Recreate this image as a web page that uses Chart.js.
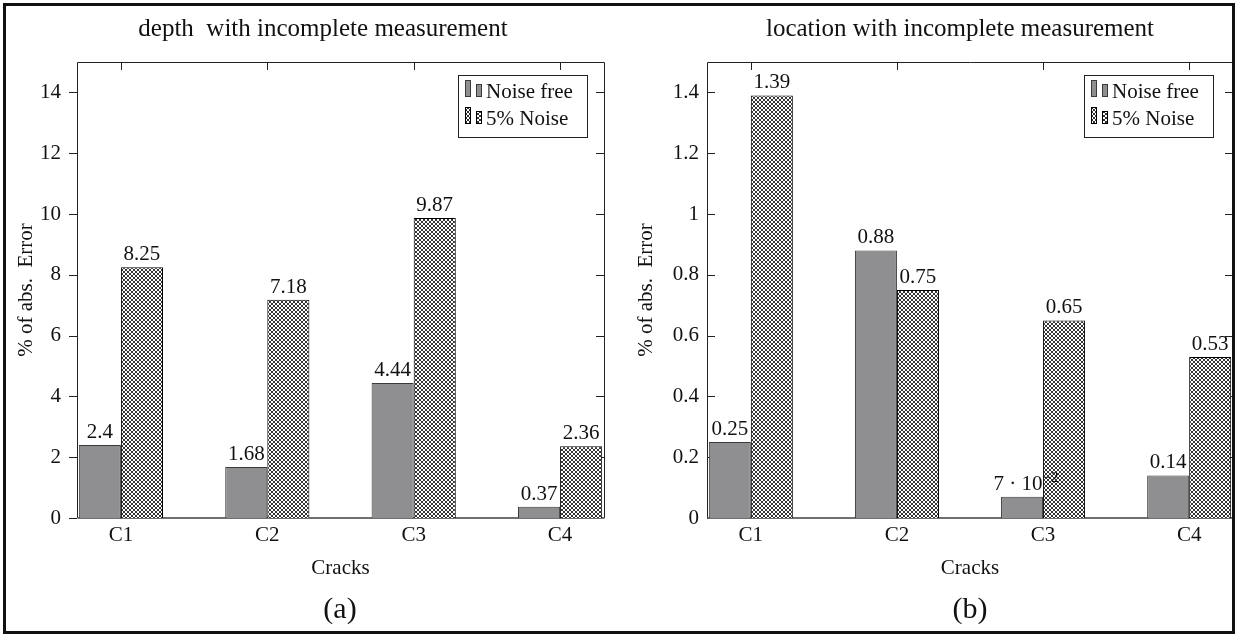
<!DOCTYPE html>
<html lang="en">
<head>
    <meta charset="UTF-8">
    <title>Crack identification error</title>
    <script src="https://cdn.jsdelivr.net/npm/chart.js"></script>
    <style>
        body {
            margin: 0;
            width: 1238px;
            height: 637px;
            background: #fff;
            position: relative;
            overflow: hidden;
            font-family: "Liberation Serif", "DejaVu Serif", serif;
        }
        canvas { position: absolute; top: 0; }
        #chartA { left: 0; }
        #chartB { left: 620px; }
        .frame {
            position: absolute;
            left: 3px; top: 3px;
            width: 1232px; height: 631px;
            box-sizing: border-box;
            border: 3px solid #111;
            pointer-events: none;
        }
        .title, .caption {
            position: absolute;
            transform: translate(-50%, -50%);
            white-space: pre;
            color: #111;
        }
        .title { font-size: 25px; top: 28px; }
        .caption { font-size: 30px; top: 608px; }
    </style>
</head>
<body>
    <canvas id="chartA" width="620" height="637"></canvas>
    <canvas id="chartB" width="618" height="637"></canvas>

    <div class="title" style="left:323px">depth  with incomplete measurement</div>
    <div class="title" style="left:960px">location with incomplete measurement</div>
    <div class="caption" style="left:340px">(a)</div>
    <div class="caption" style="left:970px">(b)</div>
    <div class="frame"></div>

    <script>
        // Data
        const cracks = ['C1', 'C2', 'C3', 'C4'];
        const seriesNames = ['Noise free', '5% Noise'];

        const depthNoiseFree = [2.4, 1.68, 4.44, 0.37];
        const depthNoise = [8.25, 7.18, 9.87, 2.36];
        const depthTicks = [0, 2, 4, 6, 8, 10, 12, 14];

        const locNoiseFree = [0.25, 0.88, 0.07, 0.14];
        const locNoise = [1.39, 0.75, 0.65, 0.53];
        const locTicks = [0, 0.2, 0.4, 0.6, 0.8, 1, 1.2, 1.4];

        const serif = '"Liberation Serif", "DejaVu Serif", serif';
        const ink = '#111';
        const grayFill = '#8f8f91';
        const fs = 21;

        // crosshatch fill for the noisy series
        function makeHatch() {
            const t = document.createElement('canvas');
            t.width = t.height = 4;
            const g = t.getContext('2d');
            g.fillStyle = '#fff';
            g.fillRect(0, 0, 4, 4);
            g.strokeStyle = '#000';
            g.lineWidth = 0.8;
            g.beginPath();
            g.moveTo(-1, -1); g.lineTo(5, 5);
            g.moveTo(5, -1); g.lineTo(-1, 5);
            g.stroke();
            return g.createPattern(t, 'repeat');
        }
        const hatch = makeHatch();

        function fmtValue(v) {
            if (v < 0.1) return null; // drawn as 7 · 10^-2
            return String(v);
        }

        // value labels above bars
        const valueLabels = {
            id: 'valueLabels',
            afterDatasetsDraw(chart) {
                const ctx = chart.ctx;
                ctx.save();
                ctx.fillStyle = ink;
                ctx.textAlign = 'center';
                ctx.textBaseline = 'alphabetic';
                chart.data.datasets.forEach((ds, di) => {
                    chart.getDatasetMeta(di).data.forEach((bar, i) => {
                        const v = ds.data[i].y;
                        const txt = fmtValue(v);
                        const y = bar.y - 7;
                        if (txt !== null) {
                            ctx.font = fs + 'px ' + serif;
                            ctx.fillText(txt, bar.x, y);
                        } else {
                            const exp = v.toExponential().split('e');
                            const base = Math.round(Number(exp[0])) + ' \u00b7 10';
                            const sup = exp[1].replace('-', '\u2212');
                            ctx.font = fs + 'px ' + serif;
                            const wb = ctx.measureText(base).width;
                            ctx.font = '15px ' + serif;
                            const ws = ctx.measureText(sup).width;
                            const x0 = bar.x - (wb + ws) / 2 + 4;
                            ctx.textAlign = 'left';
                            ctx.font = fs + 'px ' + serif;
                            ctx.fillText(base, x0, y);
                            ctx.font = '15px ' + serif;
                            ctx.fillText(sup, x0 + wb, y - 8);
                            ctx.textAlign = 'center';
                        }
                    });
                });
                ctx.restore();
            }
        };

        // axis box with ticks
        const axisFrame = {
            id: 'axisFrame',
            beforeDatasetsDraw(chart, args, opts) {
                const {ctx, chartArea: a, scales} = chart;
                const dir = opts.leftOut ? -1 : 1;
                ctx.save();
                ctx.strokeStyle = '#222';
                ctx.lineWidth = 1;
                ctx.beginPath();
                scales.y.ticks.forEach(t => {
                    const py = Math.round(scales.y.getPixelForValue(t.value)) + 0.5;
                    ctx.moveTo(a.left, py); ctx.lineTo(a.left + 8 * dir, py);
                    ctx.moveTo(a.right, py); ctx.lineTo(a.right - 8, py);
                });
                scales.x.ticks.forEach(t => {
                    const px = Math.round(scales.x.getPixelForValue(t.value)) + 0.5;
                    ctx.moveTo(px, a.top); ctx.lineTo(px, a.top + 8);
                });
                ctx.stroke();
                const l = Math.round(a.left) + 0.5, r = Math.round(a.right) + 0.5;
                const t = Math.round(a.top) + 0.5, b = Math.round(a.bottom);
                ctx.beginPath();
                ctx.moveTo(l, b); ctx.lineTo(l, t); ctx.lineTo(r, t); ctx.lineTo(r, b);
                ctx.stroke();
                ctx.strokeStyle = '#707070';
                ctx.lineWidth = 2;
                ctx.beginPath();
                ctx.moveTo(l, b); ctx.lineTo(r, b);
                ctx.stroke();
                ctx.restore();
            }
        };

        // legend box in the upper right corner
        const boxLegend = {
            id: 'boxLegend',
            afterDraw(chart, args, opts) {
                const {ctx, chartArea: a} = chart;
                const w = 129, h = 62;
                const x = a.right - opts.inset - w, y = a.top + 13;
                ctx.save();
                ctx.fillStyle = '#fff';
                ctx.fillRect(x, y, w, h);
                ctx.strokeStyle = '#222';
                ctx.lineWidth = 1;
                ctx.strokeRect(x + 0.5, y + 0.5, w, h);
                chart.data.datasets.forEach((ds, i) => {
                    const rc = y + 17 + i * 27;
                    ctx.fillStyle = ds.backgroundColor;
                    ctx.strokeStyle = ds.borderColor;
                    ctx.fillRect(x + 7, rc - 12, 6, 17);
                    ctx.strokeRect(x + 7.5, rc - 11.5, 5, 16);
                    ctx.fillRect(x + 18, rc - 8, 6, 13);
                    ctx.strokeRect(x + 18.5, rc - 7.5, 5, 12);
                    ctx.fillStyle = ink;
                    ctx.font = fs + 'px ' + serif;
                    ctx.textAlign = 'left';
                    ctx.textBaseline = 'middle';
                    ctx.fillText(ds.label, x + 28, rc);
                });
                ctx.restore();
            }
        };

        function buildChart(id, noiseFree, noisy, yMax, yTicks, axisWidth, padRight, tickPad, leftOut, inset) {
            const ctx = document.getElementById(id).getContext('2d');
            return new Chart(ctx, {
                type: 'bar',
                data: {
                    datasets: [{
                        label: seriesNames[0],
                        data: noiseFree.map((v, i) => ({x: i + 1, y: v})),
                        backgroundColor: grayFill,
                        borderColor: '#3a3a3a',
                        borderWidth: 1
                    }, {
                        label: seriesNames[1],
                        data: noisy.map((v, i) => ({x: i + 1, y: v})),
                        backgroundColor: hatch,
                        borderColor: '#000',
                        borderWidth: 1
                    }]
                },
                options: {
                    responsive: false,
                    animation: false,
                    layout: { padding: { left: 0, right: padRight, top: 62, bottom: 0 } },
                    datasets: { bar: { categoryPercentage: 0.575, barPercentage: 1 } },
                    plugins: {
                        legend: { display: false },
                        tooltip: { enabled: false },
                        title: { display: false },
                        axisFrame: { leftOut: leftOut },
                        boxLegend: { inset: inset }
                    },
                    scales: {
                        x: {
                            type: 'linear',
                            offset: false,
                            min: 0.7,
                            max: 4.3,
                            afterBuildTicks: s => { s.ticks = cracks.map((c, i) => ({ value: i + 1 })); },
                            afterFit: s => { s.height = 119; },
                            grid: { display: false, drawTicks: false, offset: false },
                            border: { display: false },
                            ticks: {
                                autoSkip: false,
                                maxRotation: 0,
                                padding: 5,
                                color: ink,
                                font: { family: serif, size: fs },
                                callback: v => cracks[v - 1]
                            },
                            title: {
                                display: true,
                                text: 'Cracks',
                                color: ink,
                                font: { family: serif, size: fs },
                                padding: { top: 0, bottom: 56 }
                            }
                        },
                        y: {
                            min: 0,
                            max: yMax,
                            afterBuildTicks: s => { s.ticks = yTicks.map(v => ({ value: v })); },
                            afterFit: s => { s.width = axisWidth; },
                            grid: { display: false, drawTicks: false },
                            border: { display: false },
                            ticks: {
                                padding: tickPad,
                                color: ink,
                                font: { family: serif, size: fs },
                                callback: v => String(v)
                            },
                            title: {
                                display: true,
                                text: '% of abs.  Error',
                                color: ink,
                                font: { family: serif, size: fs },
                                padding: { top: 14, bottom: 0 }
                            }
                        }
                    }
                },
                plugins: [axisFrame, valueLabels, boxLegend]
            });
        }

        buildChart('chartA', depthNoiseFree, depthNoise, 15, depthTicks, 77, 16, 16, true, 17);
        buildChart('chartB', locNoiseFree, locNoise, 1.5, locTicks, 87, 5, 8, false, 20);
    </script>
</body>
</html>
